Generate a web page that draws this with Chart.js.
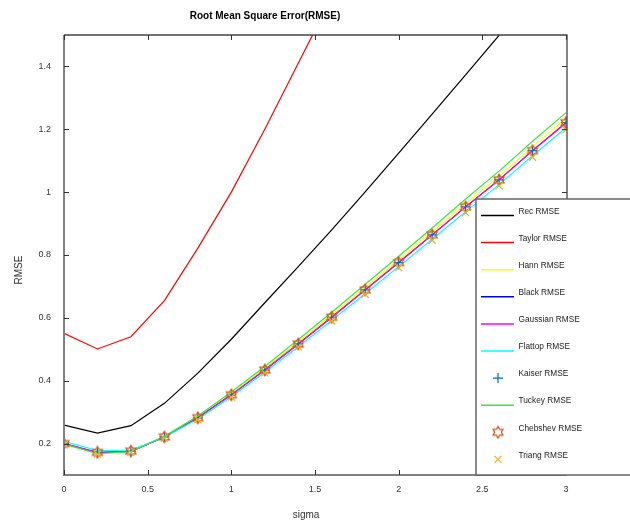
<!DOCTYPE html>
<html>
<head>
<meta charset="utf-8">
<script src="https://cdn.jsdelivr.net/npm/chart.js@4.4.0/dist/chart.umd.min.js"></script>
<style>
  html, body { margin: 0; padding: 0; background: #fff; }
  #wrap { width: 630px; height: 523px; position: relative; }
</style>
</head>
<body>
<div id="wrap"><canvas id="grafico" width="630" height="523"></canvas></div>
<script>
// ---- dados ----
const sigma = [0, 0.2, 0.4, 0.6, 0.8, 1.0, 1.2, 1.4, 1.6, 1.8, 2.0, 2.2, 2.4, 2.6, 2.8, 3.0];

const recRMSE      = [0.259, 0.233, 0.257, 0.328, 0.424, 0.532, 0.648, 0.763, 0.880, 1.001, 1.124, 1.248, 1.373, 1.499, 1.625, 1.751];
const taylorRMSE   = [0.551, 0.501, 0.540, 0.655, 0.822, 1.000, 1.200, 1.410, 1.620, 1.840, 2.060, 2.280, 2.500, 2.720, 2.940, 3.160];
const hannRMSE     = [0.199, 0.170, 0.175, 0.222, 0.285, 0.359, 0.439, 0.523, 0.609, 0.696, 0.784, 0.873, 0.963, 1.050, 1.144, 1.235];
const blackRMSE    = [0.200, 0.171, 0.175, 0.221, 0.282, 0.355, 0.434, 0.517, 0.602, 0.689, 0.776, 0.864, 0.953, 1.039, 1.132, 1.221];
const gaussianRMSE = [0.200, 0.172, 0.176, 0.221, 0.282, 0.355, 0.434, 0.517, 0.602, 0.689, 0.776, 0.864, 0.953, 1.039, 1.132, 1.221];
const flattopRMSE  = [0.207, 0.178, 0.179, 0.220, 0.278, 0.349, 0.427, 0.508, 0.592, 0.677, 0.763, 0.850, 0.938, 1.024, 1.116, 1.205];
const kaiserRMSE   = [0.200, 0.172, 0.176, 0.221, 0.282, 0.355, 0.434, 0.517, 0.602, 0.689, 0.776, 0.864, 0.953, 1.039, 1.132, 1.221];
const tuckeyRMSE   = [0.198, 0.168, 0.174, 0.223, 0.288, 0.364, 0.445, 0.531, 0.618, 0.707, 0.796, 0.886, 0.978, 1.067, 1.162, 1.253];
const chebshevRMSE = [0.200, 0.172, 0.176, 0.221, 0.282, 0.355, 0.434, 0.517, 0.602, 0.689, 0.776, 0.864, 0.953, 1.039, 1.132, 1.221];
const triangRMSE   = [0.196, 0.166, 0.172, 0.217, 0.276, 0.348, 0.425, 0.507, 0.590, 0.675, 0.760, 0.847, 0.935, 1.020, 1.111, 1.199];

const xTicks = [0, 0.5, 1, 1.5, 2, 2.5, 3];
const xTickLabels = ['0', '0.5', '1', '1.5', '2', '2.5', '3'];
const yTicks = [0.2, 0.4, 0.6, 0.8, 1.0, 1.2, 1.4];
const yTickLabels = ['0.2', '0.4', '0.6', '0.8', '1', '1.2', '1.4'];

const titulo = 'Root Mean Square Error(RMSE)';
const tituloX = 'sigma';
const tituloY = 'RMSE';

// marcador hexagrama (estrela de 6 pontas)
function hexagrama(cor) {
    const c = document.createElement('canvas');
    c.width = 14; c.height = 14;
    const g = c.getContext('2d');
    g.strokeStyle = cor;
    g.lineWidth = 1.2;
    const rOut = 5.8, rIn = rOut / Math.sqrt(3);
    g.beginPath();
    for (let j = 0; j < 12; j++) {
        const ang = -Math.PI / 2 + j * Math.PI / 6;
        const r = j % 2 === 0 ? rOut : rIn;
        const px = 7 + r * Math.cos(ang), py = 7 + r * Math.sin(ang);
        if (j === 0) g.moveTo(px, py); else g.lineTo(px, py);
    }
    g.closePath();
    g.stroke();
    return c;
}
const estrela = hexagrama('#D95319');

function pontos(valores) {
    return valores.map((v, i) => ({ x: sigma[i], y: v }));
}

const series = [
    { label: 'Rec RMSE',      data: recRMSE,      cor: '#000000', tipo: 'linha' },
    { label: 'Taylor RMSE',   data: taylorRMSE,   cor: '#ff0000', tipo: 'linha' },
    { label: 'Hann RMSE',     data: hannRMSE,     cor: '#ffff00', tipo: 'linha' },
    { label: 'Black RMSE',    data: blackRMSE,    cor: '#0000ff', tipo: 'linha' },
    { label: 'Gaussian RMSE', data: gaussianRMSE, cor: '#ff00ff', tipo: 'linha' },
    { label: 'Flattop RMSE',  data: flattopRMSE,  cor: '#00ffff', tipo: 'linha' },
    { label: 'Kaiser RMSE',   data: kaiserRMSE,   cor: '#0072BD', tipo: 'cross' },
    { label: 'Tuckey RMSE',   data: tuckeyRMSE,   cor: '#33ee33', tipo: 'linha' },
    { label: 'Chebshev RMSE', data: chebshevRMSE, cor: '#D95319', tipo: 'estrela' },
    { label: 'Triang RMSE',   data: triangRMSE,   cor: '#EDB120', tipo: 'crossRot' }
];

const datasets = series.map((s, i) => {
    const base = {
        label: s.label,
        data: pontos(s.data),
        borderColor: s.cor,
        backgroundColor: s.cor,
        order: series.length - i
    };
    if (s.tipo === 'linha') {
        return Object.assign(base, { borderWidth: 1.2, pointRadius: 0, tension: 0 });
    }
    return Object.assign(base, {
        showLine: false,
        pointStyle: s.tipo === 'estrela' ? estrela : s.tipo,
        pointRadius: 5,
        borderWidth: 1.2
    });
});

// =============== MOLDURA, TÍTULOS E LEGENDA ===============
const legendaBox = { left: 476, top: 199 };

const molduraPlugin = {
    id: 'moldura',
    afterDatasetsDraw(chart) {
        const ctx = chart.ctx;
        const a = chart.chartArea;
        const xs = chart.scales.x, ys = chart.scales.y;
        ctx.save();

        // borda superior e direita
        ctx.strokeStyle = '#444';
        ctx.lineWidth = 1.3;
        ctx.beginPath();
        ctx.moveTo(a.left, a.top);
        ctx.lineTo(a.right, a.top);
        ctx.lineTo(a.right, legendaBox.top);
        ctx.stroke();

        // eixos esquerdo e inferior
        ctx.strokeStyle = '#808080';
        ctx.lineWidth = 2;
        ctx.beginPath();
        ctx.moveTo(a.left, a.top);
        ctx.lineTo(a.left, a.bottom);
        ctx.lineTo(a.right, a.bottom);
        ctx.stroke();

        // marcas dos ticks (para dentro)
        ctx.strokeStyle = '#333';
        ctx.lineWidth = 1;
        ctx.beginPath();
        xTicks.forEach(v => {
            const px = Math.round(xs.getPixelForValue(v)) + 0.5;
            ctx.moveTo(px, a.bottom); ctx.lineTo(px, a.bottom - 5);
            ctx.moveTo(px, a.top); ctx.lineTo(px, a.top + 5);
        });
        yTicks.forEach(v => {
            const py = Math.round(ys.getPixelForValue(v)) + 0.5;
            ctx.moveTo(a.left, py); ctx.lineTo(a.left + 5, py);
            if (py < legendaBox.top) {
                ctx.moveTo(a.right, py); ctx.lineTo(a.right - 5, py);
            }
        });
        ctx.stroke();

        // título
        ctx.fillStyle = '#000';
        ctx.font = 'bold 10px "Liberation Sans", Arial, sans-serif';
        ctx.textAlign = 'center';
        ctx.textBaseline = 'middle';
        ctx.fillText(titulo, 265, 16);

        // títulos dos eixos
        ctx.fillStyle = '#333';
        ctx.font = '10px "Liberation Sans", Arial, sans-serif';
        ctx.fillText(tituloX, 306, 515);
        ctx.save();
        ctx.translate(19, 270);
        ctx.rotate(-Math.PI / 2);
        ctx.fillText(tituloY, 0, 0);
        ctx.restore();

        // legenda
        ctx.fillStyle = '#fff';
        ctx.fillRect(legendaBox.left, legendaBox.top, 640 - legendaBox.left, a.bottom - legendaBox.top);
        ctx.strokeStyle = '#666';
        ctx.lineWidth = 1.5;
        ctx.strokeRect(legendaBox.left, legendaBox.top, 640 - legendaBox.left, a.bottom - legendaBox.top);

        ctx.font = '8.3px "Liberation Sans", Arial, sans-serif';
        ctx.textAlign = 'left';
        series.forEach((s, i) => {
            const ty = 211.5 + i * 27.1;
            const my = ty + 4;
            if (s.tipo === 'linha') {
                ctx.strokeStyle = s.cor;
                ctx.lineWidth = 1.5;
                ctx.beginPath();
                ctx.moveTo(481, my); ctx.lineTo(514, my);
                ctx.stroke();
            } else if (s.tipo === 'estrela') {
                ctx.drawImage(estrela, 498 - 7, my - 7);
            } else {
                ctx.strokeStyle = s.cor;
                ctx.lineWidth = 1.2;
                ctx.beginPath();
                if (s.tipo === 'cross') {
                    ctx.moveTo(493, my); ctx.lineTo(503, my);
                    ctx.moveTo(498, my - 5); ctx.lineTo(498, my + 5);
                } else {
                    ctx.moveTo(494.5, my - 3.5); ctx.lineTo(501.5, my + 3.5);
                    ctx.moveTo(501.5, my - 3.5); ctx.lineTo(494.5, my + 3.5);
                }
                ctx.stroke();
            }
            ctx.fillStyle = '#222';
            ctx.fillText(s.label, 518.5, ty);
        });

        ctx.restore();
    }
};

new Chart(document.getElementById('grafico').getContext('2d'), {
    type: 'line',
    data: { datasets: datasets },
    options: {
        responsive: false,
        animation: false,
        devicePixelRatio: 1,
        layout: { padding: { top: 35, right: 63, bottom: 0, left: 0 } },
        plugins: {
            legend: { display: false },
            tooltip: { enabled: false },
            title: { display: false }
        },
        scales: {
            x: {
                type: 'linear',
                min: 0,
                max: 3.006,
                afterFit(scale) { scale.height = 48; },
                afterBuildTicks(scale) { scale.ticks = xTicks.map(v => ({ value: v })); },
                grid: { display: false, drawTicks: false },
                border: { display: false },
                ticks: {
                    padding: 9,
                    color: '#333',
                    font: { size: 9, family: '"Liberation Sans", Arial, sans-serif' },
                    maxRotation: 0,
                    callback: (v, i) => xTickLabels[i]
                }
            },
            y: {
                type: 'linear',
                min: 0.1,
                max: 1.5,
                afterFit(scale) { scale.width = 64; },
                afterBuildTicks(scale) { scale.ticks = yTicks.map(v => ({ value: v })); },
                grid: { display: false, drawTicks: false },
                border: { display: false },
                ticks: {
                    padding: 13,
                    color: '#333',
                    font: { size: 9, family: '"Liberation Sans", Arial, sans-serif' },
                    callback: (v, i) => yTickLabels[i]
                }
            }
        }
    },
    plugins: [molduraPlugin]
});
</script>
</body>
</html>
